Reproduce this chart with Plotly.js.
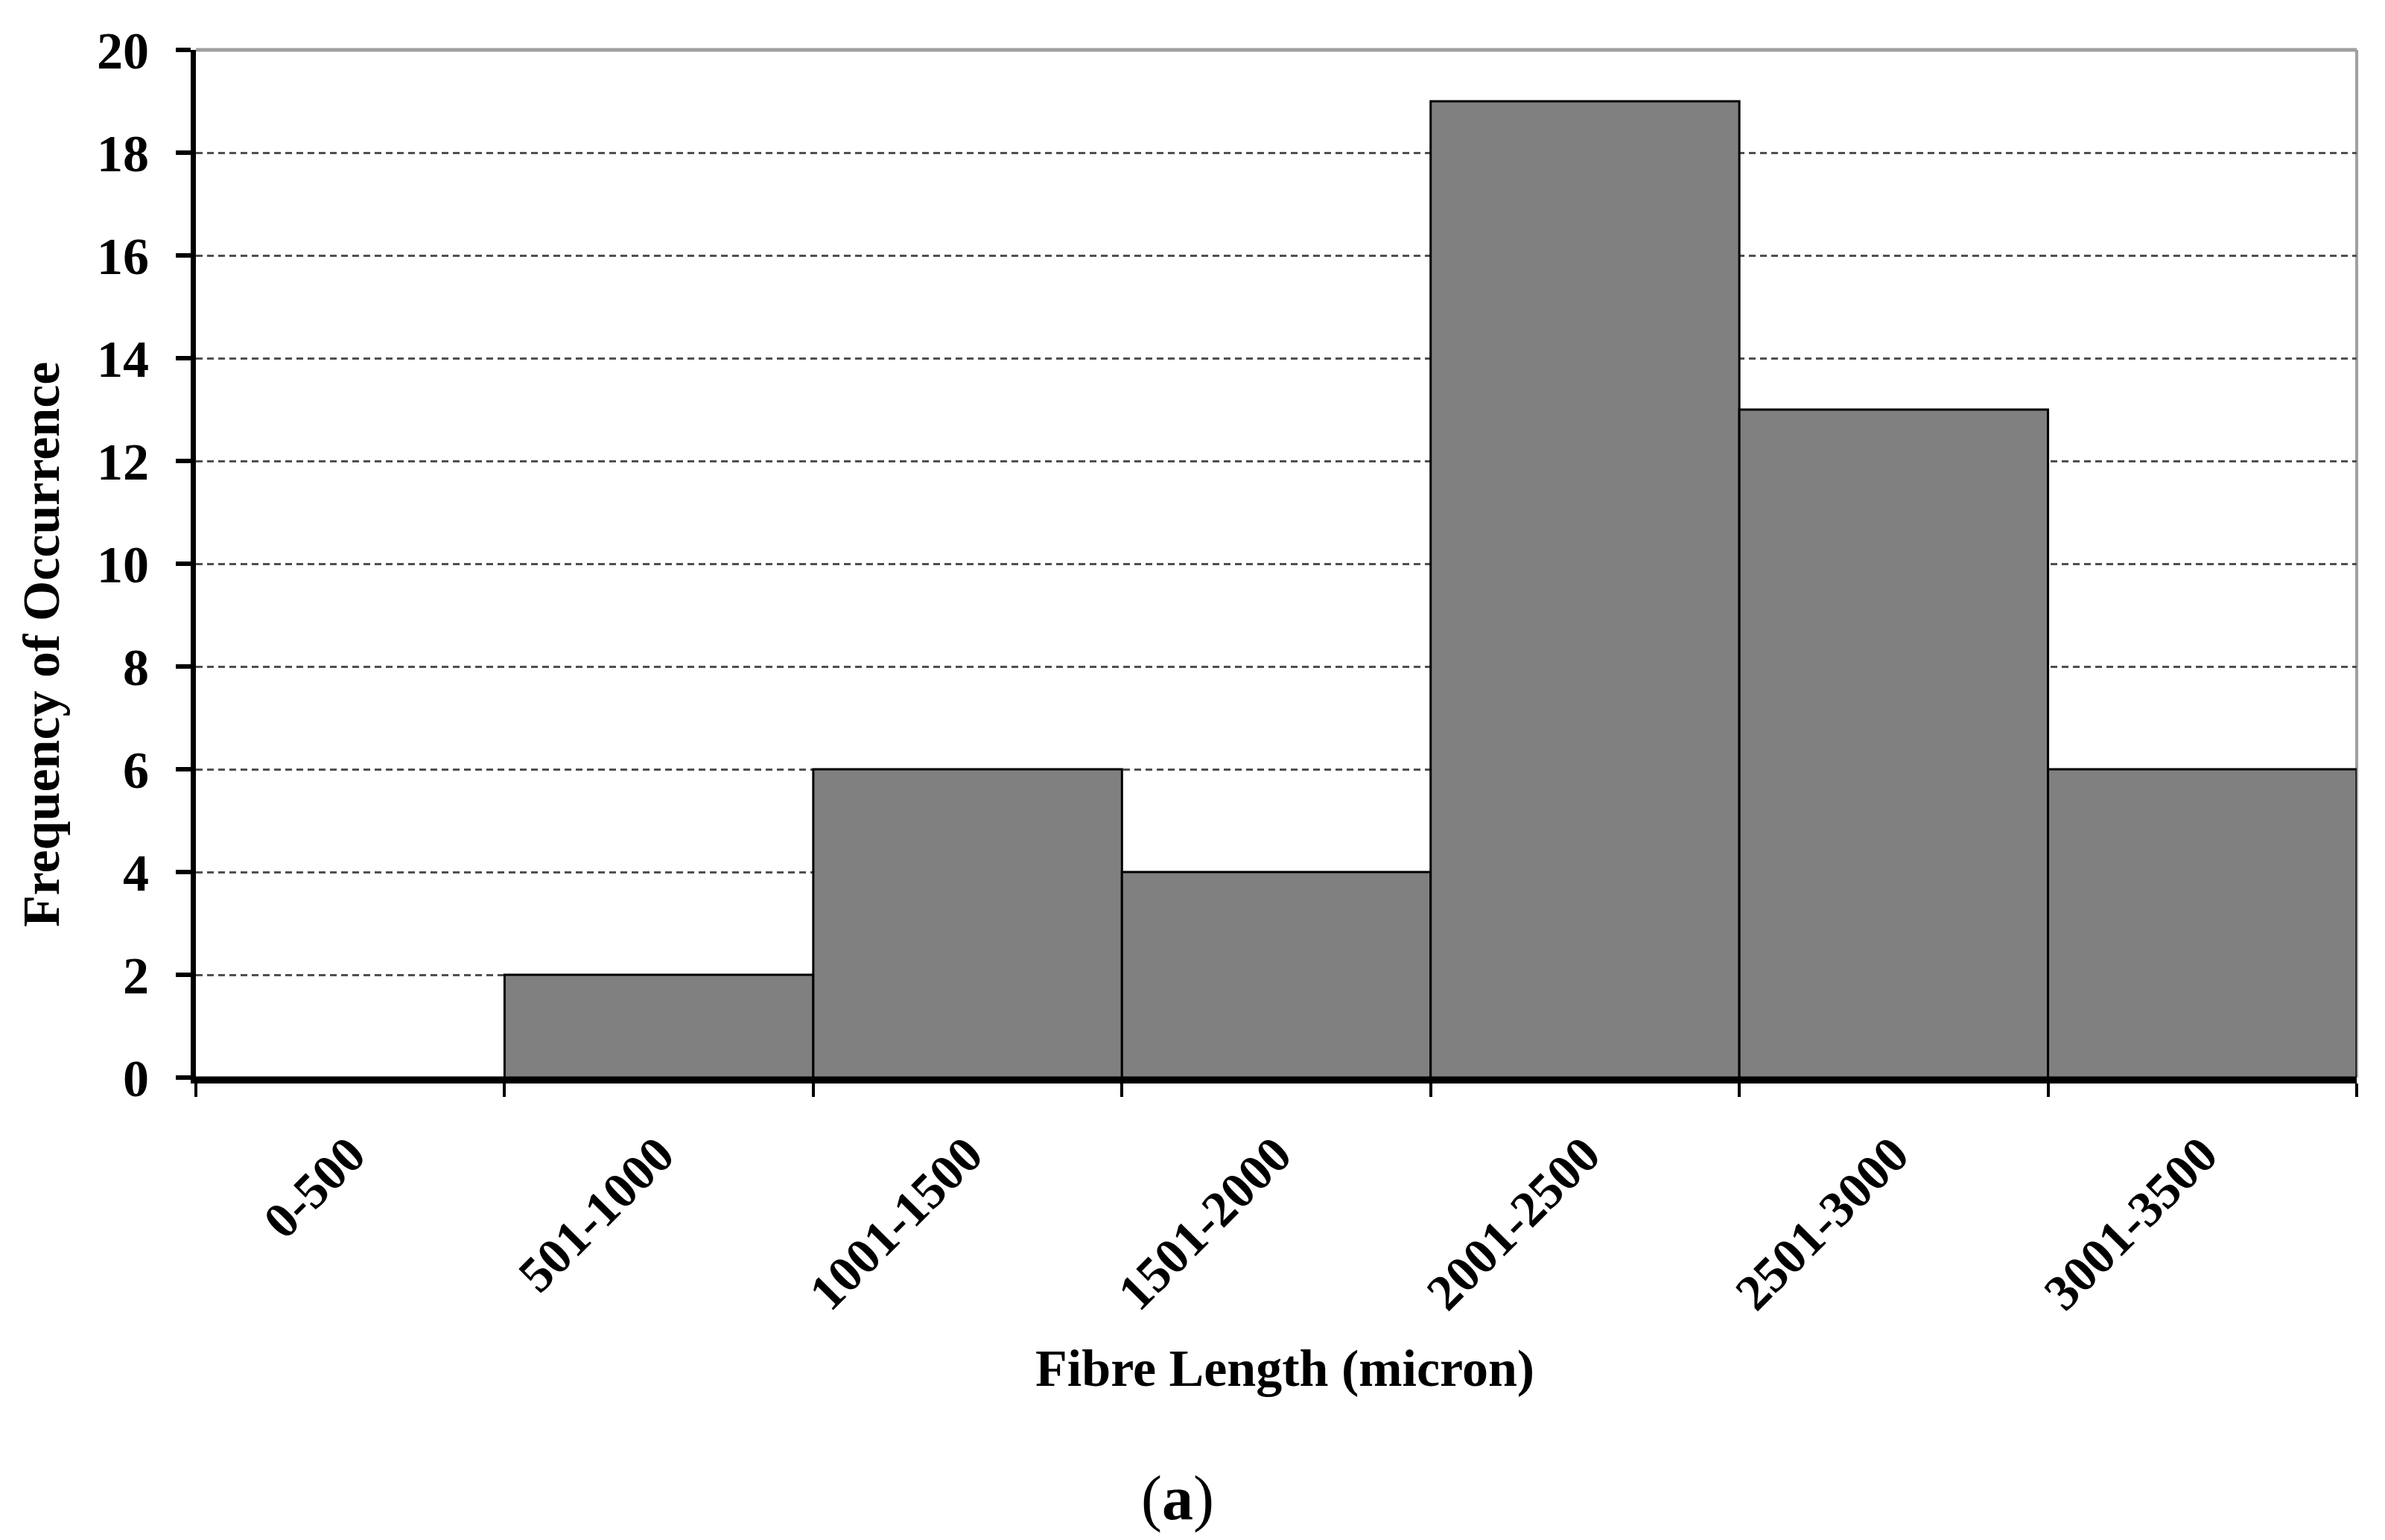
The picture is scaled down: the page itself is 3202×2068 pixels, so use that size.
<!DOCTYPE html>
<html>
<head>
<meta charset="utf-8">
<script src="https://cdn.plot.ly/plotly-3.0.1.min.js"></script>
<style>html,body{margin:0;padding:0;background:#fff;}</style>
</head>
<body>
<div id="chart" style="width:3202px;height:2068px;"></div>
<script>
const categories = ["0-500", "501-1000", "1001-1500", "1501-2000", "2001-2500", "2501-3000", "3001-3500"];
const frequency = [0, 2, 6, 4, 19, 13, 6];
const yTicks = [0, 2, 4, 6, 8, 10, 12, 14, 16, 18, 20];

const FONT = "Liberation Serif, Times New Roman, serif";

const trace = {
  type: "bar",
  x: categories,
  y: frequency,
  marker: { color: "#808080", line: { color: "#000000", width: 3 } },
  hoverinfo: "x+y"
};

const layout = {
  width: 3202,
  height: 2068,
  margin: { l: 263, r: 38, t: 67, b: 621 },
  paper_bgcolor: "#ffffff",
  plot_bgcolor: "#ffffff",
  showlegend: false,
  bargap: 0,
  font: { family: FONT, color: "#000000" },
  xaxis: {
    type: "category",
    range: [-0.5, 6.5],
    tickson: "boundaries",
    ticks: "outside",
    ticklen: 18,
    tickwidth: 4,
    tickcolor: "#000000",
    tickangle: -45,
    ticklabelstandoff: 28,
    tickfont: { family: FONT, size: 68, weight: "bold", color: "#000000" },
    showline: true,
    linecolor: "#000000",
    linewidth: 8,
    showgrid: false,
    zeroline: false
  },
  yaxis: {
    range: [0, 20],
    tickvals: yTicks,
    ticktext: yTicks.map(String),
    ticks: "outside",
    ticklen: 20,
    tickwidth: 6,
    tickcolor: "#000000",
    ticklabelstandoff: 22,
    tickfont: { family: FONT, size: 70, weight: "bold", color: "#000000" },
    showline: true,
    linecolor: "#000000",
    linewidth: 7,
    showgrid: true,
    gridcolor: "#505050",
    gridwidth: 3,
    griddash: "9px,6px",
    zeroline: false
  },
  shapes: [
    { type: "line", xref: "paper", yref: "paper", x0: 0, x1: 1, y0: 1, y1: 1,
      line: { color: "#a0a0a0", width: 5 }, layer: "above" },
    { type: "line", xref: "paper", yref: "paper", x0: 1, x1: 1, y0: 0, y1: 1,
      line: { color: "#a0a0a0", width: 4 }, layer: "below" }
  ],
  annotations: [
    { text: "Frequency of Occurrence", xref: "paper", yref: "paper",
      x: -0.0717, y: 0.4217, xanchor: "center", yanchor: "middle", textangle: -90,
      showarrow: false, font: { family: FONT, size: 70, weight: "bold", color: "#000000" } },
    { text: "Fibre Length (micron)", xref: "paper", yref: "paper",
      x: 0.504, y: -0.2833, xanchor: "center", yanchor: "middle",
      showarrow: false, font: { family: FONT, size: 70, weight: "bold", color: "#000000" } },
    { text: "(<b>a</b>)", xref: "paper", yref: "paper",
      x: 0.4543, y: -0.4094, xanchor: "center", yanchor: "middle",
      showarrow: false, font: { family: FONT, size: 84, color: "#000000" } }
  ]
};

Plotly.newPlot("chart", [trace], layout, { staticPlot: true, displayModeBar: false });
</script>
</body>
</html>
